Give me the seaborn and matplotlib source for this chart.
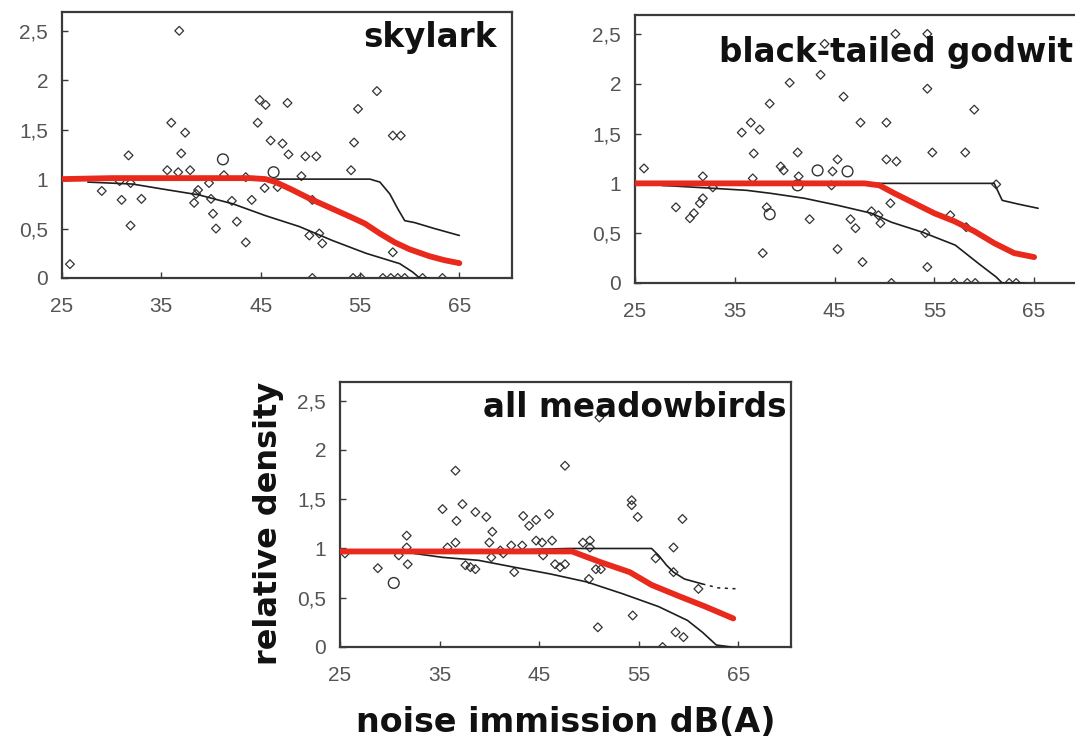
import matplotlib
matplotlib.use("Agg")
import matplotlib.pyplot as plt
import seaborn as sns

sns.set_style("white")
plt.rcParams['font.family'] = ['DejaVu Sans']

# ---------------- data ----------------
x_ticks = [25, 35, 45, 55, 65]
x_tick_labels = ["25", "35", "45", "55", "65"]
y_ticks = [0, 0.5, 1, 1.5, 2, 2.5]
y_tick_labels = ["0", "0,5", "1", "1,5", "2", "2,5"]
panel_titles = ["skylark", "black-tailed godwit", "all meadowbirds"]
x_label = "noise immission dB(A)"
y_label = "relative density"

# skylark
sky_pts_x = [25.8, 36.8, 29.0, 31.0, 31.7, 31.9, 31.9, 33.0, 30.8, 35.6, 36.0, 36.7, 37.0, 37.4,
             37.9, 38.3, 38.5, 38.7, 39.8, 40.2, 40.0, 40.5, 41.3, 42.1, 42.6, 43.5, 43.5,
             44.1, 44.7, 44.9, 45.5, 45.4, 46.0, 46.7, 47.2, 47.7, 47.8, 49.1, 49.5, 50.6,
             50.2, 49.9, 50.9, 51.2, 50.2, 54.1, 54.4, 54.8, 56.7, 58.3, 59.1, 58.3, 54.3,
             55.1, 57.3, 58.1, 58.8, 59.5, 61.3, 63.3]
sky_pts_y = [0.14, 2.50, 0.88, 0.79, 1.24, 0.53, 0.96, 0.80, 0.98, 1.09, 1.57, 1.07, 1.26, 1.47,
             1.09, 0.76, 0.85, 0.89, 0.96, 0.65, 0.80, 0.50, 1.04, 0.78, 0.57, 1.02, 0.36,
             0.79, 1.57, 1.80, 1.75, 0.91, 1.39, 0.92, 1.36, 1.77, 1.25, 1.03, 1.23, 1.23,
             0.79, 0.43, 0.45, 0.35, 0.00, 1.09, 1.37, 1.71, 1.89, 1.44, 1.44, 0.26, 0.00,
             0.00, 0.00, 0.00, 0.00, 0.00, 0.00, 0.00]
sky_big_x = [41.2, 46.3]
sky_big_y = [1.20, 1.07]
sky_red_x = [25, 30, 35, 40, 44, 45.5, 46.5, 48, 50, 52, 54, 55.5, 57, 58.5, 60, 62, 63.5, 65]
sky_red_y = [1.0, 1.01, 1.01, 1.01, 1.01, 1.0, 0.97, 0.9, 0.8, 0.71, 0.62, 0.55, 0.45, 0.36,
             0.29, 0.22, 0.18, 0.15]
sky_upper_x = [27.5, 35, 46, 56, 57, 58, 58.8, 59.5, 60.5, 62.5, 65]
sky_upper_y = [0.99, 0.99, 1.0, 1.0, 0.97, 0.85, 0.70, 0.58, 0.56, 0.50, 0.43]
sky_lower_x = [27.6, 32.1, 35.1, 38.8, 42.2, 45.5, 48.9, 52.2, 55.6, 59.0, 60.3, 61.0, 62.0]
sky_lower_y = [0.97, 0.95, 0.90, 0.84, 0.75, 0.63, 0.52, 0.38, 0.25, 0.145, 0.06, 0.0, 0.0]

# black-tailed godwit
god_pts_x = [25.9, 29.1, 30.5, 30.9, 31.5, 31.8, 31.8, 32.8, 35.7, 36.6, 37.5, 36.9, 36.8,
             38.5, 38.2, 37.8, 39.6, 39.9, 40.5, 41.3, 41.4, 42.5, 43.6, 44.0, 44.7, 44.8,
             45.3, 45.3, 45.9, 46.6, 47.1, 47.6, 47.8, 48.7, 49.4, 49.6, 50.2, 50.2, 50.6,
             51.2, 50.7, 51.1, 54.3, 54.3, 54.1, 54.3, 54.8, 56.6, 58.1, 58.2, 59.0, 57.0,
             58.3, 59.1, 62.5, 63.2, 61.2]
god_pts_y = [1.15, 0.76, 0.65, 0.70, 0.80, 0.85, 1.07, 0.96, 1.51, 1.61, 1.54, 1.30, 1.05,
             1.80, 0.76, 0.30, 1.17, 1.13, 2.01, 1.31, 1.07, 0.64, 2.09, 2.40, 0.98, 1.12,
             1.24, 0.34, 1.87, 0.64, 0.55, 1.61, 0.21, 0.72, 0.68, 0.60, 1.61, 1.24, 0.80,
             1.22, 0.00, 2.50, 1.95, 2.50, 0.50, 0.16, 1.31, 0.68, 1.31, 0.56, 1.74, 0.00,
             0.00, 0.00, 0.00, 0.00, 0.99]
god_big_x = [38.5, 41.3, 43.3, 46.3]
god_big_y = [0.69, 0.98, 1.13, 1.12]
god_red_x = [25, 35, 45, 48, 49.5, 51, 53, 55, 57, 59, 61, 63, 65]
god_red_y = [1.0, 1.0, 1.0, 1.0, 0.98, 0.9, 0.8, 0.7, 0.62, 0.52, 0.40, 0.30, 0.26]
god_upper_x = [27.7, 35, 49.7, 61.0, 61.8, 62.2, 63.5, 65.4]
god_upper_y = [0.98, 0.99, 1.0, 1.0, 0.83, 0.82, 0.79, 0.75]
god_lower_x = [27.7, 32.9, 36.2, 38.6, 42.0, 45.3, 48.7, 50.7, 53.8, 57.1, 59.5, 61.2, 61.8, 64.0]
god_lower_y = [0.98, 0.95, 0.93, 0.90, 0.85, 0.78, 0.70, 0.61, 0.51, 0.38, 0.19, 0.06, 0.0, 0.0]

# all meadowbirds
all_pts_x = [25.5, 28.8, 30.9, 31.7, 31.7, 31.8, 35.3, 35.8, 36.6, 36.6, 36.7, 37.3, 37.6,
             38.1, 38.6, 38.6, 39.7, 40.3, 40.0, 40.2, 41.1, 41.4, 42.2, 42.5, 43.3, 43.4,
             44.0, 44.7, 44.7, 45.3, 45.4, 46.0, 46.3, 46.6, 47.1, 47.6, 47.6, 49.4, 50.1,
             50.1, 50.0, 50.7, 51.2, 50.9, 51.05, 54.3, 54.3, 54.9, 54.4, 56.7, 57.4, 58.5,
             58.5, 58.7, 59.5, 59.4, 61.0]
all_pts_y = [0.95, 0.80, 0.93, 1.13, 1.01, 0.84, 1.40, 1.01, 1.06, 1.79, 1.28, 1.45, 0.83,
             0.81, 0.79, 1.37, 1.32, 1.17, 1.06, 0.91, 0.98, 0.95, 1.03, 0.76, 1.03, 1.33,
             1.23, 1.29, 1.08, 1.06, 0.93, 1.35, 1.08, 0.84, 0.81, 1.84, 0.84, 1.06, 1.08,
             1.01, 0.69, 0.79, 0.79, 0.20, 2.33, 1.49, 1.44, 1.32, 0.32, 0.90, 0.00, 1.01,
             0.76, 0.15, 0.10, 1.30, 0.59]
all_big_x = [30.4]
all_big_y = [0.65]
all_red_x = [25, 35, 45, 48.3, 51.2, 54.1, 56.3, 59.2, 61.7, 64.5]
all_red_y = [0.97, 0.97, 0.97, 0.97, 0.86, 0.76, 0.63, 0.51, 0.41, 0.29]
all_upper_x = [32.0, 40, 48.0, 56.3, 57.0, 57.8, 58.5, 59.6, 61.4]
all_upper_y = [0.96, 0.98, 1.0, 1.0, 0.93, 0.83, 0.76, 0.69, 0.64]
all_tail_x = [61.4, 63.0, 65.0]
all_tail_y = [0.64, 0.60, 0.59]
all_lower_x = [32.4, 35.3, 38.9, 42.5, 46.2, 49.8, 53.4, 57.0, 59.9, 61.4, 62.8, 64.3]
all_lower_y = [0.95, 0.91, 0.88, 0.81, 0.74, 0.66, 0.54, 0.41, 0.27, 0.15, 0.02, 0.0]

panels = [
    dict(px=sky_pts_x, py=sky_pts_y, bx=sky_big_x, by=sky_big_y, rx=sky_red_x, ry=sky_red_y,
         ux=sky_upper_x, uy=sky_upper_y, lx=sky_lower_x, ly=sky_lower_y, tx=None, ty=None),
    dict(px=god_pts_x, py=god_pts_y, bx=god_big_x, by=god_big_y, rx=god_red_x, ry=god_red_y,
         ux=god_upper_x, uy=god_upper_y, lx=god_lower_x, ly=god_lower_y, tx=None, ty=None),
    dict(px=all_pts_x, py=all_pts_y, bx=all_big_x, by=all_big_y, rx=all_red_x, ry=all_red_y,
         ux=all_upper_x, uy=all_upper_y, lx=all_lower_x, ly=all_lower_y, tx=all_tail_x, ty=all_tail_y),
]

# ---------------- layout ----------------
W, H = 1075, 738
fig = plt.figure(figsize=(W / 100, H / 100), dpi=100)

def box(left, top, right, bottom):
    return [left / W, 1 - bottom / H, (right - left) / W, (bottom - top) / H]

positions = [box(62, 12, 512, 278), box(635, 15, 1087, 283), box(340, 382, 791, 647)]
title_pos = [(0.967, 0.868), (0.970, 0.825), (0.991, 0.868)]

RED = "#e8291c"
INK = "#1e1e1e"
SPINE = "#3a3a3a"
TICKCOL = "#555555"

for pos, p, title, tp in zip(positions, panels, panel_titles, title_pos):
    ax = fig.add_axes(pos)
    sns.scatterplot(x=p["px"], y=p["py"], ax=ax, marker="D", s=20, facecolor="none",
                    edgecolor="#333333", linewidth=0.9, zorder=2)
    sns.scatterplot(x=p["bx"], y=p["by"], ax=ax, marker="o", s=60, facecolor="none",
                    edgecolor="#333333", linewidth=1.0, zorder=2)
    sns.lineplot(x=p["ux"], y=p["uy"], ax=ax, color=INK, linewidth=1.2, zorder=3)
    if p["tx"] is not None:
        sns.lineplot(x=p["tx"], y=p["ty"], ax=ax, color=INK, linewidth=1.1,
                     linestyle=(0, (2, 3)), zorder=3)
    sns.lineplot(x=p["lx"], y=p["ly"], ax=ax, color=INK, linewidth=1.2, zorder=3)
    sns.lineplot(x=p["rx"], y=p["ry"], ax=ax, color=RED, linewidth=4.2, zorder=4)

    ax.set_xlim(25, 70.3)
    ax.set_ylim(0, 2.69)
    ax.set_xticks(x_ticks)
    ax.set_xticklabels(x_tick_labels)
    ax.set_yticks(y_ticks)
    ax.set_yticklabels(y_tick_labels)
    ax.tick_params(axis="both", direction="in", length=4.5, width=1.0, color=SPINE,
                   labelcolor=TICKCOL, labelsize=15)
    ax.tick_params(axis="x", pad=14, bottom=True)
    ax.tick_params(axis="y", pad=10, left=True)
    for lab in ax.get_xticklabels() + ax.get_yticklabels():
        lab.set_family("Liberation Sans")
    for sp in ax.spines.values():
        sp.set_visible(True)
        sp.set_color(SPINE)
        sp.set_linewidth(1.6)
    ax.set_xlabel("")
    ax.set_ylabel("")
    ax.text(tp[0], tp[1], title, transform=ax.transAxes, ha="right", va="baseline",
            fontsize=23.5, fontweight="bold", color="#111111", zorder=5)

fig.text(268 / W, 1 - 523 / H, y_label, rotation=90, ha="center", va="center",
         fontsize=23, fontweight="bold", color="#111111")
fig.text(566 / W, 1 - 732 / H, x_label, ha="center", va="baseline",
         fontsize=24, fontweight="bold", color="#111111")

fig.savefig("out.png", dpi=100)
